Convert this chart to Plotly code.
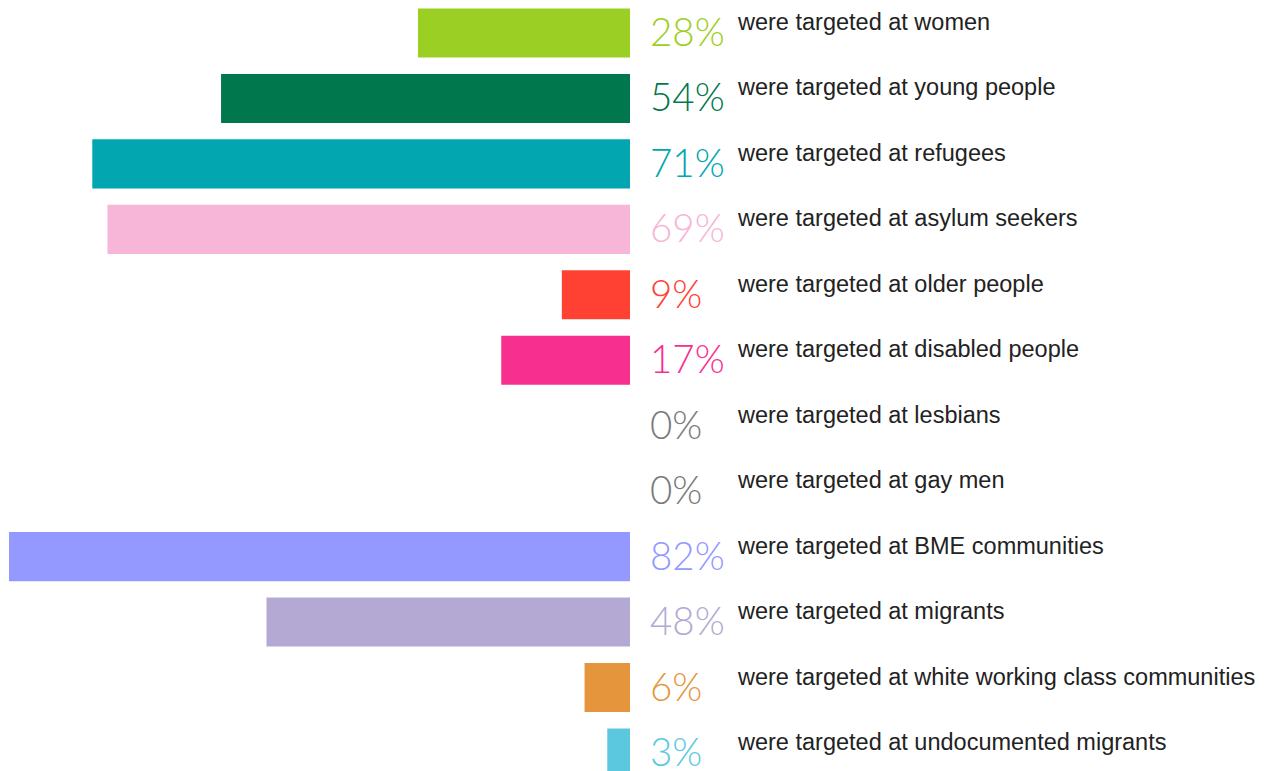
import plotly.graph_objects as go

groups = ["women", "young people", "refugees", "asylum seekers", "older people",
          "disabled people", "lesbians", "gay men", "BME communities", "migrants",
          "white working class communities", "undocumented migrants"]
values = [28, 54, 71, 69, 9, 17, 0, 0, 82, 48, 6, 3]
colors = ["#9BCF24", "#00774D", "#01A6B0", "#F7B5D7", "#FF4133", "#F72F8F",
          "#7A7A7A", "#7A7A7A", "#9399FF", "#B3A9D3", "#E5963D", "#5BC8DF"]

W, H = 1275, 771
page_off = 8                       # browser body margin
px_per_unit = 621 / 82.0           # horizontal scale
zero_px = 630 - page_off           # pixel of the zero line (figure coords)
row0_px, row_step = 33 - page_off, 65.45

x_left = zero_px / px_per_unit
x_right = -(W - zero_px) / px_per_unit
y_top = -row0_px / row_step
y_bottom = (H - row0_px) / row_step

idx = list(range(len(groups)))

fig = go.Figure(go.Bar(
    x=values, y=idx, orientation="h", width=0.75,
    marker=dict(color=colors, line=dict(width=0)),
    hoverinfo="skip",
))

pct_off = -17.5 / px_per_unit
txt_off = -105 / px_per_unit
annotations = []
for i, (g, v, c) in enumerate(zip(groups, values, colors)):
    annotations.append(dict(
        x=pct_off, y=i, xref="x", yref="y", text=f"{v}%", showarrow=False,
        xanchor="left", yanchor="middle", yshift=2,
        font=dict(family="Lato", size=38.5, color=c, weight=300),
    ))
    annotations.append(dict(
        x=txt_off, y=i, xref="x", yref="y", text=f"were targeted at {g}",
        showarrow=False, xanchor="left", yanchor="middle", yshift=11,
        font=dict(family="Liberation Sans", size=23.5, color="#222222"),
    ))

fig.update_layout(
    width=W, height=H, margin=dict(l=0, r=0, t=0, b=0),
    paper_bgcolor="white", plot_bgcolor="white",
    xaxis=dict(range=[x_left, x_right], visible=False, fixedrange=True),
    yaxis=dict(range=[y_bottom, y_top], visible=False, fixedrange=True),
    showlegend=False, annotations=annotations,
)
fig.write_html("out.html")
